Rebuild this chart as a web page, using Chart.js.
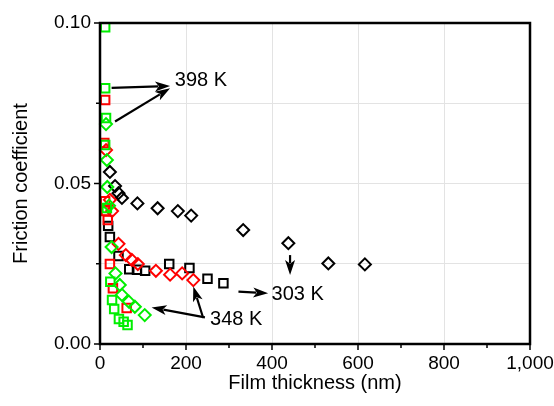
<!DOCTYPE html>
<html>
<head>
<meta charset="utf-8">
<script src="https://cdn.jsdelivr.net/npm/chart.js@4/dist/chart.umd.min.js"></script>
<style>
  html, body { margin: 0; padding: 0; background: #fff; }
  #wrap { width: 554px; height: 406px; }
</style>
</head>
<body>
<div id="wrap"><canvas id="frictionChart"></canvas></div>
<script>
// values, x = film thickness (nm), y = friction coefficient
// 303 K (black)
var blackSquareX = [19, 23, 43, 68, 86, 105, 161, 208, 250, 287];
var blackSquareY = [0.0368, 0.0333, 0.0274, 0.0233, 0.0231, 0.0228, 0.0249, 0.0237, 0.0203, 0.0189];
var blackDiamondX = [23, 35, 43, 51, 87, 134, 181, 212, 333, 438, 531, 616];
var blackDiamondY = [0.0536, 0.0492, 0.0470, 0.0455, 0.0438, 0.0423, 0.0414, 0.0400, 0.0355, 0.0314, 0.0251, 0.0248];
// 348 K (red)
var redSquareX = [12, 10, 12, 14, 18, 23, 30, 62];
var redSquareY = [0.0760, 0.0626, 0.0445, 0.0414, 0.0386, 0.0249, 0.0174, 0.0112];
var redDiamondX = [14, 23, 28, 43, 60, 74, 88, 130, 163, 191, 217];
var redDiamondY = [0.0604, 0.0449, 0.0414, 0.0312, 0.0277, 0.0262, 0.0249, 0.0228, 0.0216, 0.0220, 0.0199];
// 398 K (green)
var greenSquareX = [12, 12, 14, 12, 16, 24, 28, 33, 44, 55, 64];
var greenSquareY = [0.0987, 0.0797, 0.0704, 0.0620, 0.0424, 0.0194, 0.0137, 0.0109, 0.0078, 0.0069, 0.0059];
var greenDiamondX = [14, 16, 17, 21, 27, 36, 46, 51, 67, 81, 104];
var greenDiamondY = [0.0685, 0.0573, 0.0489, 0.0431, 0.0302, 0.0220, 0.0184, 0.0153, 0.0132, 0.0116, 0.0090];

var xTickLabels = ['0', '200', '400', '600', '800', '1,000'];
var yTickLabels = ['0.00', '0.05', '0.10'];

// temperature labels and their arrows, in data units
var noteLabels = ['398 K', '303 K', '348 K'];
var noteX = [174, 399, 256];
var noteY = [0.0820, 0.0153, 0.0075];
var arrowFromX = [27, 35, 322, 442, 244, 240];
var arrowFromY = [0.0798, 0.0693, 0.0163, 0.0277, 0.0083, 0.0081];
var arrowToX = [163, 163, 391, 442, 120, 217];
var arrowToY = [0.0804, 0.0797, 0.0158, 0.0215, 0.0114, 0.0179];

var FONT = "'Liberation Sans', Arial, sans-serif";

function pts(xs, ys) {
    return xs.map(function (x, i) { return {x: x, y: ys[i]}; });
}

function series(xs, ys, color, shape, order) {
    return {
        data: pts(xs, ys),
        pointStyle: shape,
        pointRadius: 6,
        pointBorderWidth: 2,
        pointBorderColor: color,
        pointBackgroundColor: 'rgba(0,0,0,0)',
        showLine: false,
        order: order,
        clip: false
    };
}

function drawArrow(ctx, x1, y1, x2, y2) {
    var a = Math.atan2(y2 - y1, x2 - x1);
    var head = 15, half = 5;
    var c = Math.cos(a), s = Math.sin(a);
    ctx.beginPath();
    ctx.moveTo(x1, y1);
    ctx.lineTo(x2 - head * 0.8 * c, y2 - head * 0.8 * s);
    ctx.stroke();
    ctx.beginPath();
    ctx.moveTo(x2, y2);
    ctx.lineTo(x2 - head * c - half * s, y2 - head * s + half * c);
    ctx.lineTo(x2 - head * 0.75 * c, y2 - head * 0.75 * s);
    ctx.lineTo(x2 - head * c + half * s, y2 - head * s - half * c);
    ctx.closePath();
    ctx.fill();
}

// frame, outward tick marks and the annotations
var extras = {
    id: 'extras',
    afterDatasetsDraw: function (chart) {
        var ctx = chart.ctx;
        var area = chart.chartArea;
        var xs = chart.scales.x, ys = chart.scales.y;
        ctx.save();
        ctx.strokeStyle = '#000';
        ctx.fillStyle = '#000';
        ctx.lineWidth = 2.5;
        ctx.strokeRect(area.left, area.top, area.right - area.left, area.bottom - area.top);

        ctx.lineWidth = 1.5;
        for (var v = 0; v <= 1000; v += 100) {
            var px = xs.getPixelForValue(v);
            var len = (v % 200 === 0) ? 6 : 4;
            ctx.beginPath();
            ctx.moveTo(px, area.bottom);
            ctx.lineTo(px, area.bottom + len);
            ctx.stroke();
        }
        for (var i = 0; i <= 4; i++) {
            var py = ys.getPixelForValue(i * 0.025);
            var l = (i % 2 === 0) ? 6 : 4;
            ctx.beginPath();
            ctx.moveTo(area.left, py);
            ctx.lineTo(area.left - l, py);
            ctx.stroke();
        }

        ctx.lineWidth = 2.2;
        for (var k = 0; k < arrowFromX.length; k++) {
            drawArrow(ctx,
                xs.getPixelForValue(arrowFromX[k]), ys.getPixelForValue(arrowFromY[k]),
                xs.getPixelForValue(arrowToX[k]), ys.getPixelForValue(arrowToY[k]));
        }

        ctx.font = '20px ' + FONT;
        ctx.textAlign = 'left';
        ctx.textBaseline = 'middle';
        for (var n = 0; n < noteLabels.length; n++) {
            ctx.fillText(noteLabels[n], xs.getPixelForValue(noteX[n]), ys.getPixelForValue(noteY[n]));
        }
        ctx.restore();
    }
};

var chart = new Chart(document.getElementById('frictionChart'), {
    type: 'scatter',
    data: {
        datasets: [
            series(blackSquareX, blackSquareY, '#000000', 'rect', 3),
            series(blackDiamondX, blackDiamondY, '#000000', 'rectRot', 3),
            series(redSquareX, redSquareY, '#ff0000', 'rect', 2),
            series(redDiamondX, redDiamondY, '#ff0000', 'rectRot', 2),
            series(greenSquareX, greenSquareY, '#00ee00', 'rect', 1),
            series(greenDiamondX, greenDiamondY, '#00ee00', 'rectRot', 1)
        ]
    },
    options: {
        responsive: true,
        maintainAspectRatio: false,
        animation: false,
        layout: {padding: {top: 23, right: 0, left: 0, bottom: 0}},
        plugins: {legend: {display: false}, tooltip: {enabled: false}},
        scales: {
            x: {
                type: 'linear',
                min: 0, max: 1000,
                border: {display: false},
                grid: {
                    drawTicks: false,
                    lineWidth: 1,
                    color: function (c) {
                        var v = Math.round(c.tick.value);
                        return (v % 200 === 0 && v > 0 && v < 1000) ? '#e3e3e3' : 'rgba(0,0,0,0)';
                    }
                },
                ticks: {
                    stepSize: 100,
                    autoSkip: false,
                    maxRotation: 0,
                    padding: 8,
                    color: '#000',
                    font: {family: FONT, size: 19},
                    callback: function (value) {
                        var v = Math.round(value);
                        return v % 200 === 0 ? xTickLabels[v / 200] : '';
                    }
                },
                title: {
                    display: true,
                    text: 'Film thickness (nm)',
                    color: '#000',
                    font: {family: FONT, size: 20},
                    padding: {top: 0, bottom: 11}
                },
                afterFit: function (scale) {
                    scale.height = 62;
                    scale.paddingLeft = 0;
                    scale.paddingRight = 24;
                }
            },
            y: {
                type: 'linear',
                min: 0, max: 0.1,
                border: {display: false},
                grid: {
                    drawTicks: false,
                    lineWidth: 1,
                    color: function (c) {
                        var i = Math.round(c.tick.value / 0.025);
                        return (i > 0 && i < 4) ? '#e3e3e3' : 'rgba(0,0,0,0)';
                    }
                },
                ticks: {
                    stepSize: 0.025,
                    autoSkip: false,
                    padding: 9,
                    color: '#000',
                    font: {family: FONT, size: 19},
                    callback: function (value) {
                        var i = Math.round(value / 0.025);
                        return i % 2 === 0 ? yTickLabels[i / 2] : '';
                    }
                },
                title: {
                    display: true,
                    text: 'Friction coefficient',
                    color: '#000',
                    font: {family: FONT, size: 20},
                    padding: {top: 9, bottom: 0}
                },
                afterFit: function (scale) {
                    scale.width = 100;
                    scale.paddingTop = 0;
                    scale.paddingBottom = 0;
                }
            }
        }
    },
    plugins: [extras]
});
</script>
</body>
</html>
